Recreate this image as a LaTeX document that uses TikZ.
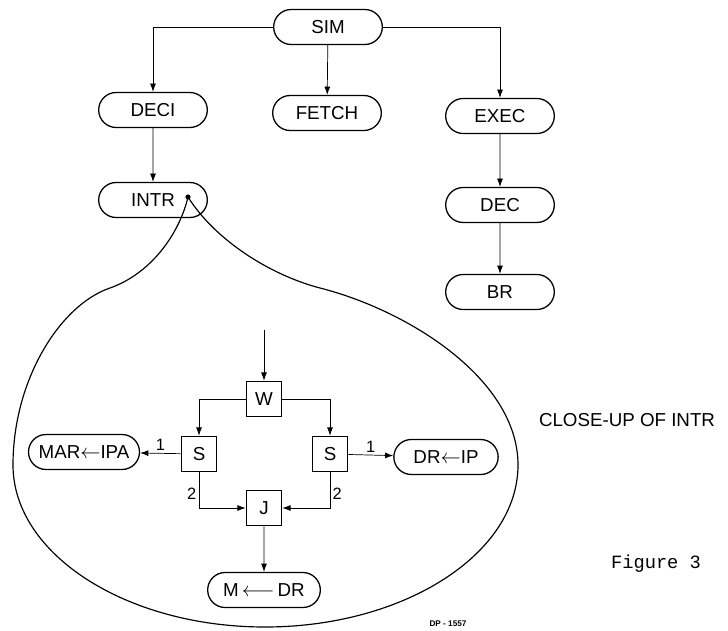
\documentclass[tikz,border=0pt]{standalone}
\usepackage{fontspec}
\setmainfont{Liberation Sans}
\newfontfamily\typefont{Liberation Mono}
\usetikzlibrary{arrows.meta,shapes.misc}

\begin{document}
\begin{tikzpicture}[x=0.3mm, y=-0.3mm, >={Latex[length=7pt,width=5pt]},
  every node/.style={font=\fontsize{16}{18}\selectfont},
  proc/.style={rounded rectangle, draw, line width=1.1pt, minimum width=33.3mm, minimum height=10.5mm, inner sep=1pt},
  box/.style={rectangle, draw, line width=1.1pt, minimum size=10.6mm, inner sep=1pt},
  link/.style={->, line width=0.6pt},
  num/.style={font=\fontsize{14}{16}\selectfont, inner sep=2pt}]
  \useasboundingbox (0,0) rectangle (728,631);
  % call tree
  \node[proc] (SIM) at (328,27) {SIM};
  \node[proc] (DECI) at (153,110) {DECI};
  \node[proc] (FETCH) at (327,113) {FETCH};
  \node[proc] (EXEC) at (500,116) {EXEC};
  \node[proc] (INTR) at (153,200) {INTR};
  \node[proc] (DEC) at (500,205) {DEC};
  \node[proc] (BR) at (500,292) {BR};
  \draw[link] (SIM.west) -| (DECI); \draw[link] (SIM) -- (FETCH);
  \draw[link] (SIM.east) -| (EXEC);
  \draw[link] (DECI) -- (INTR); \draw[link] (EXEC) -- (DEC); \draw[link] (DEC) -- (BR);
  % balloon
  \coordinate (tip) at (188,197);
  \draw[line width=1pt] (tip) .. controls (179,235) and (150,274) .. (110,288)
    .. controls (60,305) and (13,380) .. (13,465)
    .. controls (13,554) and (126,627) .. (265,627)
    .. controls (404,627) and (518,554) .. (518,465)
    .. controls (518,380) and (410,311) .. (320,288)
    .. controls (270,275) and (215,240) .. (tip);
  \fill (tip) circle (2.6);
  % close-up
  \coordinate (in) at (264,330);
  \node[box] (W) at (264,399) {W};
  \node[box] (S1) at (199,454) {S};
  \node[box] (S2) at (330,454) {S};
  \node[box] (J) at (264,508) {J};
  \node[proc, minimum width=34mm] (MAR) at (84,452) {MAR$\leftarrow$IPA};
  \node[proc, minimum width=32mm] (DR) at (446,457) {DR$\leftarrow$IP};
  \node[proc, minimum width=34.5mm] (M) at (264,590) {M\,$\longleftarrow$\,DR};
  \draw[link] (in) -- (W);
  \draw[link] (W.west) -| (S1); \draw[link] (W.east) -| (S2);
  \draw[link] (S1) -- (MAR) node[num, midway, above] {1};
  \draw[link] (S2) -- (DR) node[num, midway, above] {1};
  \draw[link] (S1.south) |- (J.west) node[num, pos=0.3, left] {2};
  \draw[link] (S2.south) |- (J.east) node[num, pos=0.3, right] {2};
  \draw[link] (J) -- (M);
  % notes
  \node (close) at (627,420) {CLOSE-UP OF INTR};
  \node[font=\typefont\fontsize{16}{18}\selectfont] (fig) at (656,564) {Figure 3};
  \node[font=\bfseries\fontsize{7}{8}\selectfont] (dp) at (448,624) {DP - 1557};
\end{tikzpicture}
\end{document}
